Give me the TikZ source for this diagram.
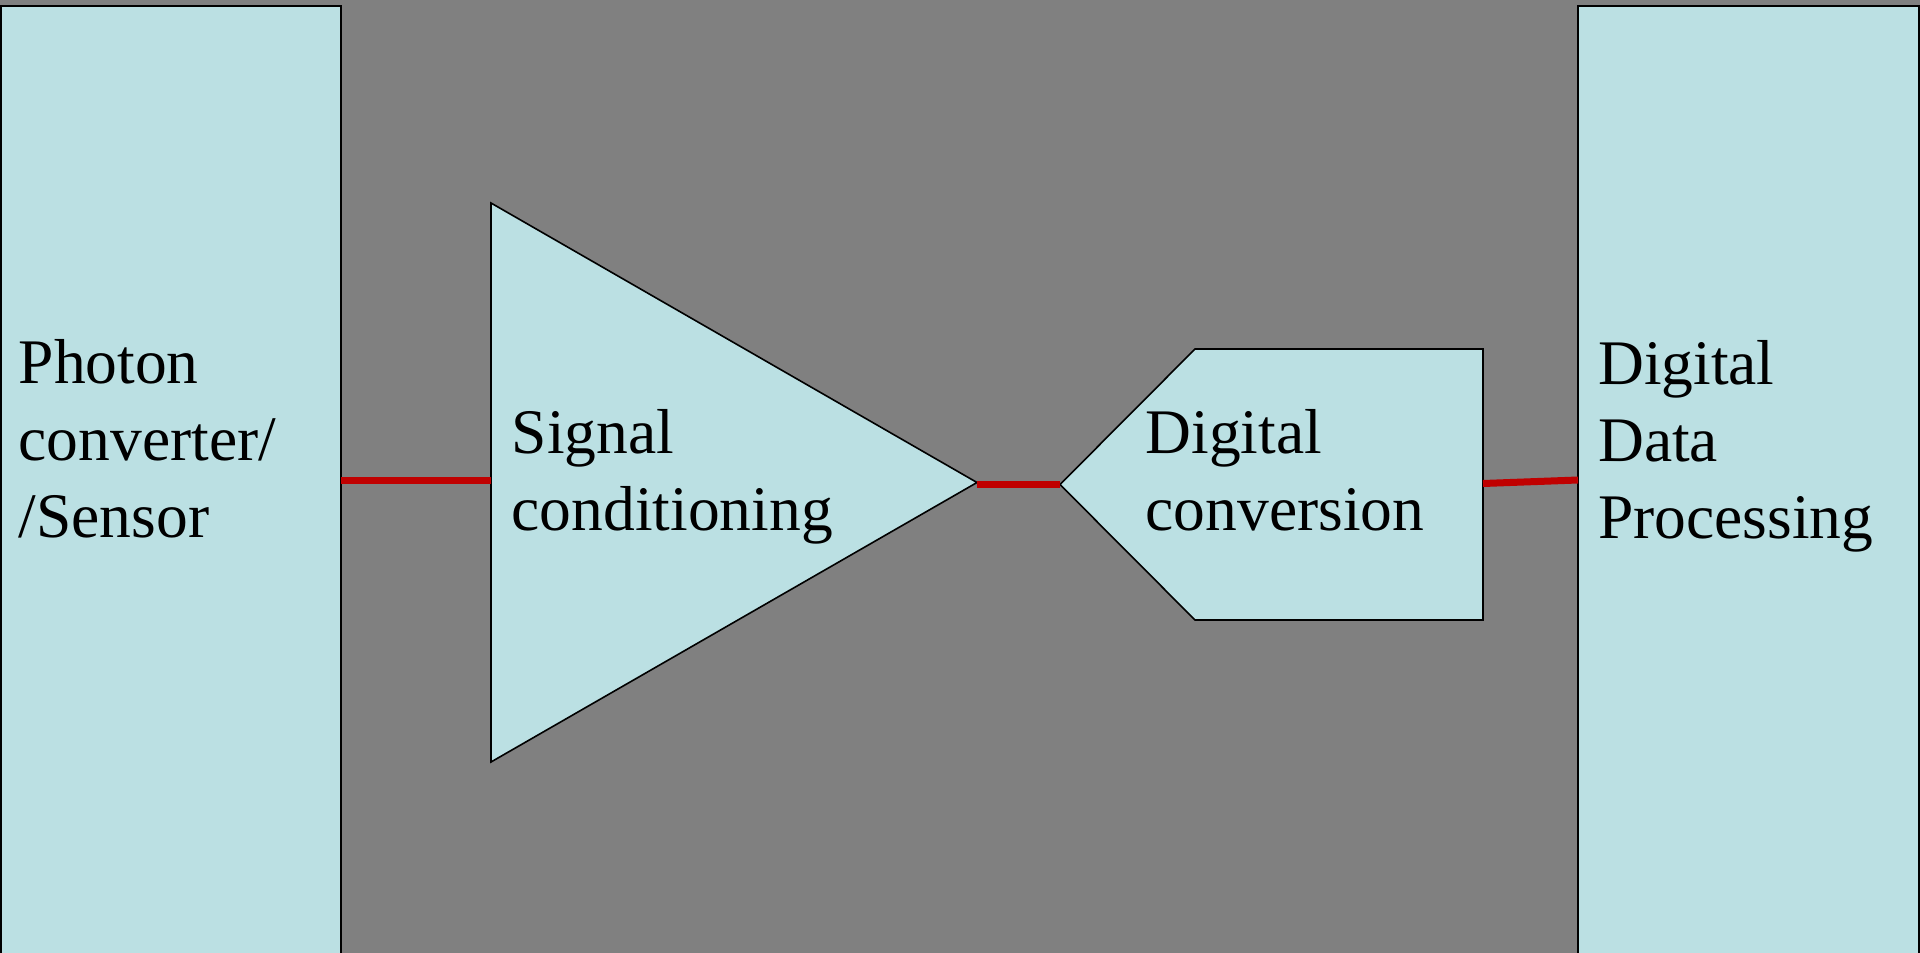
\documentclass[tikz,border=0pt]{standalone}
\usepackage{fontspec}
\setmainfont{Liberation Serif}
\definecolor{slide}{RGB}{128,128,128}
\definecolor{blockfill}{RGB}{187,224,227}
\definecolor{wire}{RGB}{192,0,0}
\begin{document}
\begin{tikzpicture}[x=1pt,y=-1pt,
  block/.style={draw=black,line width=1.6pt,fill=blockfill,line join=miter},
  wirestyle/.style={draw=wire,line width=7pt},
  label/.style={anchor=base west,inner sep=0pt,align=left,
    font=\fontsize{63.5}{76.7}\selectfont}]
  % slide background
  \fill[slide] (0,0) rectangle (1920,953);
  \useasboundingbox (0,0) rectangle (1920,953);

  % outer blocks
  \draw[block] (0.8,6) rectangle (341,970);
  \draw[block] (1578,6) rectangle (1919.2,970);
  \coordinate (sensorR) at (341,480);
  \coordinate (dspL) at (1578,480);

  % amplifier triangle
  \draw[block] (491,203) -- (977,482.5) -- (491,762) -- cycle;
  \coordinate (ampL) at (491,480);
  \coordinate (ampR) at (977,484);

  % converter pentagon
  \draw[block] (1060,484.5) -- (1195,349) -- (1483,349) -- (1483,620) -- (1195,620) -- cycle;
  \coordinate (adcL) at (1060,484);
  \coordinate (adcR) at (1483,483.5);

  % connections
  \draw[wirestyle] (sensorR) -- (ampL);
  \draw[wirestyle] (ampR) -- (adcL);
  \draw[wirestyle] (adcR) -- (dspL);

  % labels (anchored at the baseline of their last line)
  \node[label] (sensortext) at (18.5,537) {Photon\\converter/\\/Sensor};
  \node[label] (amptext) at (511.5,530) {Signal\\conditioning};
  \node[label] (adctext) at (1145.5,530) {Digital\\conversion};
  \node[label] (dsptext) at (1598,538) {Digital\\Data\\Processing};
\end{tikzpicture}
\end{document}
